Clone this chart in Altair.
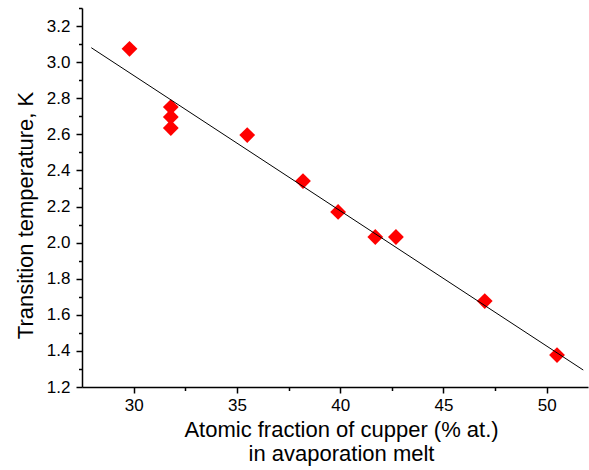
import altair as alt
import pandas as pd

# Data
cu_fraction = [29.8, 31.8, 31.8, 31.8, 35.5, 38.2, 39.9, 41.7, 42.7, 47.0, 50.5]
t_transition = [3.074, 2.751, 2.696, 2.635, 2.596, 2.341, 2.170, 2.031, 2.031, 1.676, 1.377]
fit_x = [27.95, 51.77]
fit_y = [3.08, 1.294]

x_major = [30, 35, 40, 45, 50]
x_minor = [32.5, 37.5, 42.5, 47.5]
y_major = [1.2, 1.4, 1.6, 1.8, 2.0, 2.2, 2.4, 2.6, 2.8, 3.0, 3.2]
y_minor = [1.3, 1.5, 1.7, 1.9, 2.1, 2.3, 2.5, 2.7, 2.9, 3.1, 3.3]

x_title = ["Atomic fraction of cupper (% at.)", "in avaporation melt"]
y_title = "Transition temperature, K"

pts = pd.DataFrame({"x": cu_fraction, "y": t_transition})
fit = pd.DataFrame({"x": fit_x, "y": fit_y})

FONT = "Liberation Sans"
xscale = alt.Scale(domain=[27.5, 52], nice=False, zero=False)
yscale = alt.Scale(domain=[1.2, 3.3], nice=False, zero=False)

common = dict(labelFont=FONT, titleFont=FONT, labelColor="black", titleColor="black",
              domainColor="black", tickColor="black", grid=False,
              labelFontSize=17, titleFontSize=22, titleFontWeight="normal",
              domainWidth=1.5, tickWidth=1.5)

points = alt.Chart(pts).mark_point(
    shape="diamond", filled=True, color="#ff0000", size=250, opacity=1
).encode(
    x=alt.X("x:Q", scale=xscale,
            axis=alt.Axis(values=x_major, format="d", tickSize=6, labelPadding=4,
                          orient="bottom", title=x_title, titleAlign="center",
                          titleBaseline="alphabetic", titleX=259, titleY=49,
                          titleLineHeight=24, **common)),
    y=alt.Y("y:Q", scale=yscale,
            axis=alt.Axis(values=y_major, format=".1f", tickSize=6, labelPadding=6,
                          orient="left", title=y_title, titleAngle=270,
                          titleAlign="center", titleBaseline="alphabetic",
                          titleX=-50, titleY=207, **common)),
)

minor_common = dict(labels=False, domain=False, ticks=True, tickSize=3.5,
                    tickColor="black", tickWidth=1.5, grid=False, title=None)

line = alt.Chart(fit).mark_line(color="black", strokeWidth=1).encode(
    x=alt.X("x:Q", scale=xscale, axis=alt.Axis(values=x_minor, orient="bottom", **minor_common)),
    y=alt.Y("y:Q", scale=yscale, axis=alt.Axis(values=y_minor, orient="left", **minor_common)),
)

chart = alt.layer(points, line).resolve_axis(
    x="independent", y="independent"
).properties(
    width=506, height=379,
    padding={"left": 82, "top": 8, "right": 1, "bottom": 83},
    autosize=alt.AutoSizeParams(type="none"),
    background="white",
).configure_view(stroke=None)

chart.save("out.html", embed_options={"renderer": "svg", "actions": False})
